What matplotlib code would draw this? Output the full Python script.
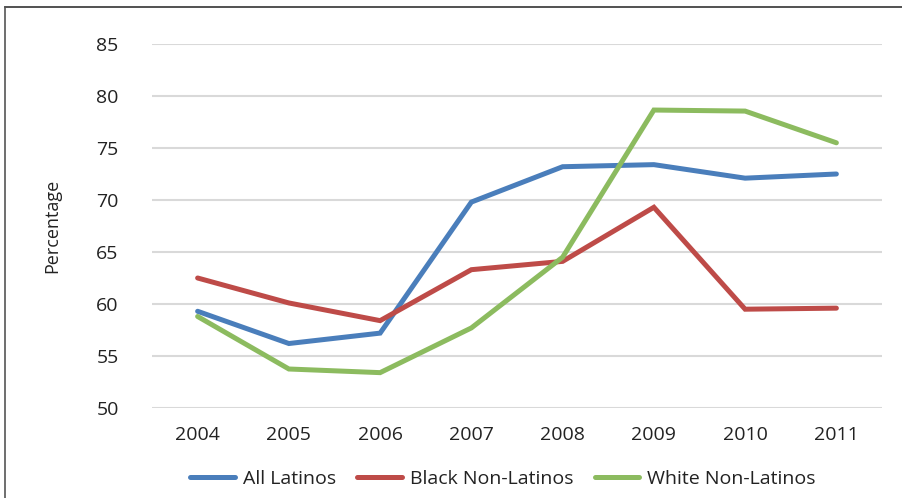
import matplotlib.pyplot as plt
from matplotlib.lines import Line2D

years = ['2004', '2005', '2006', '2007', '2008', '2009', '2010', '2011']
all_latinos = [59.3, 56.2, 57.2, 69.8, 73.2, 73.4, 72.1, 72.5]
black_non_latinos = [62.5, 60.1, 58.4, 63.3, 64.1, 69.3, 59.5, 59.6]
white_non_latinos = [58.8, 53.75, 53.4, 57.7, 64.5, 78.65, 78.55, 75.5]

series = [
    ('All Latinos', all_latinos, '#4a7ebb'),
    ('Black Non-Latinos', black_non_latinos, '#be4b48'),
    ('White Non-Latinos', white_non_latinos, '#8cbb5f'),
]

plt.rcParams['font.family'] = ['Open Sans', 'DejaVu Sans']

fig = plt.figure(figsize=(9.03, 4.98), dpi=100)
ax = fig.add_axes([152 / 903, 1 - 408 / 498, 730 / 903, 364 / 498])

x = range(len(years))
for name, vals, color in series:
    ax.plot(x, vals, color=color, lw=3.6, solid_capstyle='round',
            solid_joinstyle='miter', label=name)

ax.set_xlim(-0.5, len(years) - 0.5)
ax.set_ylim(50, 85)
ax.set_yticks(range(50, 86, 5))
ax.set_xticks(list(x))
ax.set_xticklabels(years)
ax.yaxis.grid(True, color='#d9d9d9', lw=1.5)
ax.set_axisbelow(True)
for s in ax.spines.values():
    s.set_visible(False)
ax.tick_params(length=0, labelsize=14, colors='#222222')
ax.tick_params(axis='y', pad=24)
ax.tick_params(axis='x', pad=13)
ax.set_ylabel('Percentage', fontsize=13, color='#222222', labelpad=25)

handles = [Line2D([], [], color=c, lw=3.6, solid_capstyle='round') for _, _, c in series]
fig.legend(handles, [n for n, _, _ in series], loc='center', ncol=3,
           bbox_to_anchor=(503 / 903, 1 - 479 / 498), frameon=False,
           fontsize=14, handlelength=2.3, columnspacing=1.1, handletextpad=0.4,
           labelcolor='#222222')

# frame lines at top and left of the picture
fig.add_artist(Line2D([5 / 903, 1], [1 - 7 / 498, 1 - 7 / 498], color='#333333', lw=1.2))
fig.add_artist(Line2D([5 / 903, 5 / 903], [0, 1 - 7 / 498], color='#555555', lw=1.2))

fig.savefig('out.png', dpi=100)
